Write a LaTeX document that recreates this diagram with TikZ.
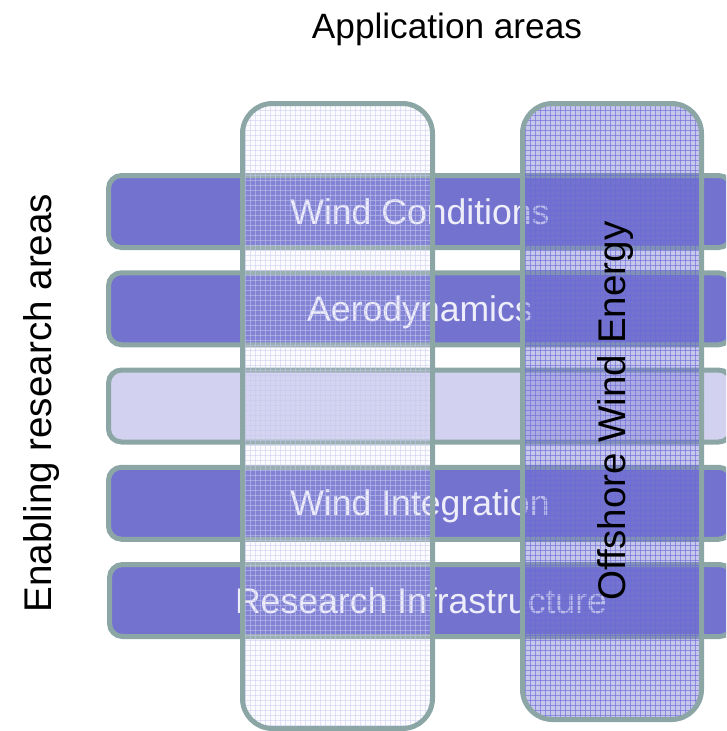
\documentclass[tikz,border=0pt]{standalone}
\usepackage{fontspec}
\setmainfont{Liberation Sans}
\definecolor{edgegray}{HTML}{8CA6A6}
\definecolor{rowblue}{HTML}{7373CF}
\definecolor{rowpale}{HTML}{D2D2F0}
\definecolor{rowtext}{HTML}{EEEEFB}
\definecolor{lightgrid}{HTML}{C8C8F0}
\definecolor{lightbase}{HTML}{E4E4F8}
\definecolor{darkbase}{HTML}{7373D0}
\definecolor{darkgrid}{HTML}{6A6AD8}
\begin{document}
\begin{tikzpicture}[x=1pt,y=-1pt,
  edge/.style={draw=edgegray, line width=5pt},
  rowbox/.style={edge, fill=rowblue, rounded corners=13pt,
    minimum width=623pt, minimum height=72pt, inner sep=0pt,
    text=rowtext, font=\fontsize{35.6}{40}\selectfont,
    text height=25pt, text depth=0pt},
  pale/.style={fill=rowpale},
  labeltext/.style={font=\fontsize{35.2}{42}\selectfont, text=black, inner sep=0pt},
  sidetext/.style={font=\fontsize{38.6}{46}\selectfont, text=black, inner sep=0pt,
    rotate=90, anchor=base}
]
\useasboundingbox (0,0) rectangle (726,731);
\clip (0,0) rectangle (726,731);

% headings
\node[labeltext, anchor=base] (apptitle) at (447,38) {Application areas};
\node[sidetext] (enabling) at (51,403) {Enabling research areas};

% enabling research areas (rows)
\node[rowbox] (wind)   at (420,211.5)  {Wind Conditions};
\node[rowbox] (aero)   at (420,308.75) {Aerodynamics};
\node[rowbox, pale] (blank) at (420,406) {};
\node[rowbox] (integ)  at (420,503.25) {Wind Integration};
\node[rowbox] (infra)  at (421,600.5)  {Research Infrastructure};

% first application column: light grid overlay
\begin{scope}
  \clip[rounded corners=30pt] (242.5,103.5) rectangle (432.5,728.5);
  \fill[lightbase, opacity=0.15] (240,100) rectangle (436,732);
  \foreach \gx in {240,245,...,435}
    \draw[lightgrid, opacity=0.5, line width=1pt] (\gx,100) -- (\gx,732);
  \foreach \gy in {100,105,...,732}
    \draw[lightgrid, opacity=0.5, line width=1pt] (240,\gy) -- (436,\gy);
\end{scope}
\draw[edge, rounded corners=30pt] (242.5,103.5) rectangle (432.5,728.5);

% second application column: darker grid overlay
\begin{scope}
  \clip[rounded corners=30pt] (522.5,103.5) rectangle (701.5,719.5);
  \fill[darkbase, opacity=0.4] (520,100) rectangle (705,722);
  \foreach \gx in {520,525,...,705}
    \draw[darkgrid, opacity=0.6, line width=1pt] (\gx,100) -- (\gx,722);
  \foreach \gy in {100,105,...,722}
    \draw[darkgrid, opacity=0.6, line width=1pt] (520,\gy) -- (705,\gy);
\end{scope}
\draw[edge, rounded corners=30pt] (522.5,103.5) rectangle (701.5,719.5);

\node[sidetext] (offshore) at (625,411) {Offshore Wind Energy};
\end{tikzpicture}
\end{document}
